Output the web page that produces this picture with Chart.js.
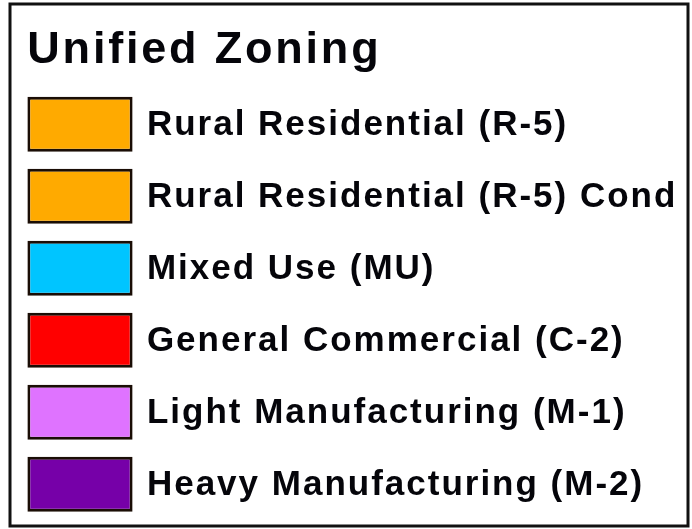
<!DOCTYPE html>
<html>
<head>
<meta charset="utf-8">
<script src="https://cdn.jsdelivr.net/npm/chart.js@4/dist/chart.umd.min.js"></script>
<style>
  html, body { margin: 0; padding: 0; background: #fff; }
  #wrap { width: 692px; height: 529px; position: relative; }
</style>
</head>
<body>
<div id="wrap"><canvas id="c" width="692" height="529"></canvas></div>
<script>
// ---- data ----
const titleText = 'Unified Zoning';
const categories = [
  'Rural Residential (R-5)',
  'Rural Residential (R-5) Cond',
  'Mixed Use (MU)',
  'General Commercial (C-2)',
  'Light Manufacturing (M-1)',
  'Heavy Manufacturing (M-2)'
];
const swatchValues = [1, 1, 1, 1, 1, 1];
const swatchColors = ['#FFAA00', '#FFAA00', '#00C5FF', '#FF0000', '#DF73FF', '#7600A8'];
const swatchBorder = '#1a0d05';

// ---- plugins (frame + letter spacing) ----
const spacingPlugin = {
  id: 'spacing',
  beforeDraw(chart) {
    chart.ctx.letterSpacing = '2.8px';   // title
  },
  afterDatasetsDraw(chart) {
    chart.ctx.letterSpacing = '2px';     // category labels
  },
  afterDraw(chart) {
    const ctx = chart.ctx;
    ctx.save();
    ctx.letterSpacing = '0px';
    ctx.strokeStyle = '#111';
    ctx.lineWidth = 3;
    ctx.strokeRect(10, 4, 678, 522);
    ctx.restore();
  }
};

new Chart(document.getElementById('c'), {
  type: 'bar',
  data: {
    labels: categories,
    datasets: [{
      data: swatchValues,
      backgroundColor: swatchColors,
      borderColor: swatchBorder,
      borderWidth: 3,
      borderSkipped: false,
      categoryPercentage: 1,
      barPercentage: 55 / 72
    }]
  },
  options: {
    indexAxis: 'y',
    responsive: false,
    animation: false,
    devicePixelRatio: 1,
    layout: { padding: { left: 27.3, right: 0, top: 0, bottom: 8.8 } },
    plugins: {
      legend: { display: false },
      tooltip: { enabled: false },
      title: {
        display: true,
        text: titleText,
        align: 'start',
        color: '#05050a',
        font: { family: '"Liberation Sans", Arial, sans-serif', size: 45, weight: 'bold', lineHeight: 1 },
        padding: { top: 27.6, bottom: 15.6 }
      }
    },
    scales: {
      x: { display: false, min: 0, max: 1 },
      y: {
        position: 'right',
        grid: { display: false, drawTicks: false },
        border: { display: false },
        ticks: {
          z: 1,
          color: '#05050a',
          padding: 14.2,
          labelOffset: 1,
          font: { family: '"Liberation Sans", Arial, sans-serif', size: 35, weight: 'bold' }
        },
        afterFit(scale) {
          scale.width = 692 - 132.7;
          scale.paddingTop = 0;
          scale.paddingBottom = 0;
        }
      }
    }
  },
  plugins: [spacingPlugin]
});
</script>
</body>
</html>
